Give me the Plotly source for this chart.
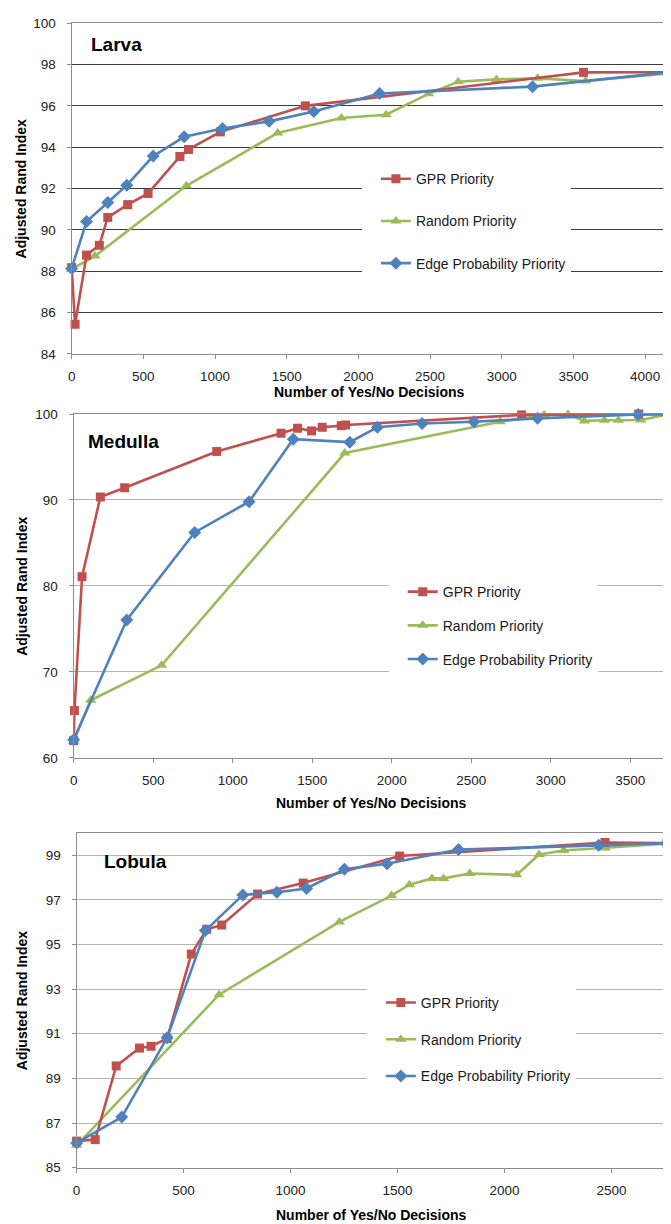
import plotly.graph_objects as go

W, H = 671, 1224

# ---------------- data ----------------
series_names = ["GPR Priority", "Random Priority", "Edge Probability Priority"]

larva_gpr_x = [0, 24, 104, 193, 252, 391, 533, 755, 815, 1037, 1630, 3570, 4160]
larva_gpr_y = [88.17, 85.43, 88.78, 89.25, 90.6, 91.22, 91.76, 93.55, 93.89, 94.74, 96.0, 97.62, 97.63]
larva_rand_x = [0, 163, 800, 1437, 1881, 2193, 2489, 2696, 2963, 3250, 3585, 4160]
larva_rand_y = [88.1, 88.73, 92.13, 94.69, 95.41, 95.57, 96.58, 97.17, 97.28, 97.33, 97.2, 97.57]
larva_edge_x = [0, 104, 252, 385, 569, 785, 1052, 1378, 1689, 2148, 3215, 4160]
larva_edge_y = [88.13, 90.4, 91.32, 92.16, 93.57, 94.5, 94.9, 95.25, 95.73, 96.6, 96.93, 97.62]

medulla_gpr_x = [0, 5, 53, 168, 321, 900, 1304, 1408, 1496, 1563, 1683, 1710, 2817, 3553, 3750]
medulla_gpr_y = [62.0, 65.5, 81.07, 90.35, 91.42, 95.65, 97.77, 98.35, 98.04, 98.46, 98.65, 98.73, 99.9, 100, 100]
medulla_rand_x = [0, 107, 553, 1705, 2682, 2959, 3108, 3212, 3337, 3425, 3566, 3750]
medulla_rand_y = [61.9, 66.7, 70.76, 95.46, 99.1, 99.9, 99.95, 99.2, 99.27, 99.27, 99.3, 100]
medulla_edge_x = [0, 334, 761, 1103, 1381, 1736, 1910, 2191, 2517, 2917, 3550, 3750]
medulla_edge_y = [62.1, 76.03, 86.23, 89.8, 97.08, 96.73, 98.46, 98.9, 99.1, 99.5, 99.96, 100]

lobula_gpr_x = [0, 87, 185, 294, 348, 423, 536, 608, 678, 846, 1059, 1510, 2470, 2760]
lobula_gpr_y = [86.19, 86.26, 89.56, 90.36, 90.44, 90.78, 94.57, 95.68, 95.87, 97.26, 97.75, 98.96, 99.57, 99.54]
lobula_rand_x = [0, 666, 1228, 1472, 1556, 1661, 1715, 1838, 2057, 2162, 2277, 2470, 2760]
lobula_rand_y = [86.0, 92.75, 96.01, 97.19, 97.68, 97.96, 97.96, 98.18, 98.12, 99.03, 99.21, 99.32, 99.51]
lobula_edge_x = [0, 211, 423, 602, 777, 936, 1075, 1252, 1451, 1785, 2440, 2760]
lobula_edge_y = [86.11, 87.27, 90.82, 95.62, 97.22, 97.34, 97.51, 98.37, 98.62, 99.25, 99.44, 99.54]

panel_titles = ["Larva", "Medulla", "Lobula"]
x_title = "Number of Yes/No Decisions"
y_title = "Adjusted Rand Index"

# ---------------- styling ----------------
RED, GREEN, BLUE = "#C0504D", "#9BBB59", "#4F81BD"
FONT = "Liberation Sans, Arial, sans-serif"

def py(p):  # pixel (from top) -> paper
    return 1 - p / H

def px(p):
    return p / W

panels = [
    dict(name="Larva", xd=(60, 660), yd=(8.3, 343), xr=(0, 4160), yr=(84, 100), dx=500, dy=2, y0=84,
         grid="#3c3c3c", gw=1.3, title_xy=(77, 30), xt_y=382, leg_top=150, leg_left=352, gap=21,
         data=[(larva_gpr_x, larva_gpr_y), (larva_rand_x, larva_rand_y), (larva_edge_x, larva_edge_y)]),
    dict(name="Medulla", xd=(62, 662), yd=(404, 752), xr=(0, 3750), yr=(60, 100), dx=500, dy=10, y0=60,
         grid="#b4b4b4", gw=1.1, title_xy=(74, 432), xt_y=798, leg_top=568, leg_left=379, gap=12.5,
         data=[(medulla_gpr_x, medulla_gpr_y), (medulla_rand_x, medulla_rand_y), (medulla_edge_x, medulla_edge_y)]),
    dict(name="Lobula", xd=(65, 659), yd=(828, 1167), xr=(0, 2760), yr=(85, 100), dx=500, dy=2, y0=85,
         grid="#b4b4b4", gw=1.1, title_xy=(91, 857), xt_y=1215, leg_top=984, leg_left=357, gap=15.5,
         data=[(lobula_gpr_x, lobula_gpr_y), (lobula_rand_x, lobula_rand_y), (lobula_edge_x, lobula_edge_y)]),
]

styles = [
    dict(color=RED, symbol="square", size=9),
    dict(color=GREEN, symbol="triangle-up", size=10),
    dict(color=BLUE, symbol="diamond", size=10),
]
draw_order = [1, 0, 2]  # green under, red, blue on top

fig = go.Figure()
layout = dict(
    width=W, height=H, margin=dict(l=0, r=0, t=0, b=0),
    paper_bgcolor="white", plot_bgcolor="white",
    font=dict(family=FONT, size=13, color="#222222"),
    showlegend=True,
)
annotations = []

for i, p in enumerate(panels):
    sfx = "" if i == 0 else str(i + 1)
    leg = "legend" if i == 0 else f"legend{i + 1}"
    for k in draw_order:
        xs, ys = p["data"][k]
        st = styles[k]
        fig.add_trace(go.Scatter(
            x=xs, y=ys, mode="lines+markers", name=series_names[k],
            xaxis="x" + sfx, yaxis="y" + sfx, legend=leg,
            legendgroup=f"{p['name']}_{k}", legendrank=k + 1,
            line=dict(color=st["color"], width=2.6),
            marker=dict(color=st["color"], symbol=st["symbol"], size=st["size"],
                        line=dict(width=0)),
            cliponaxis=False,
        ))
    layout["xaxis" + sfx] = dict(
        domain=[px(p["xd"][0]), px(p["xd"][1])], range=list(p["xr"]),
        anchor="y" + sfx, tick0=0, dtick=p["dx"], showgrid=False,
        showline=True, linecolor="#8c8c8c", linewidth=1.2, mirror=True,
        ticks="outside", ticklen=4, tickcolor="#8c8c8c", ticklabelstandoff=6,
        tickfont=dict(size=13.5, color="#222222"), zeroline=False,
    )
    layout["yaxis" + sfx] = dict(
        domain=[py(p["yd"][1]), py(p["yd"][0])], range=list(p["yr"]),
        anchor="x" + sfx, tick0=p["y0"], dtick=p["dy"], showgrid=True,
        gridcolor=p["grid"], gridwidth=p["gw"],
        showline=True, linecolor="#8c8c8c", linewidth=1.2, mirror=True,
        ticks="outside", ticklen=4, tickcolor="#8c8c8c", ticklabelstandoff=8,
        tickfont=dict(size=13.5, color="#222222"), zeroline=False,
    )
    layout[leg] = dict(
        x=px(p["leg_left"]), y=py(p["leg_top"]), xanchor="left", yanchor="top",
        bgcolor="white", borderwidth=0, font=dict(size=14, color="#1a1a1a"),
        tracegroupgap=p["gap"], indentation=14, traceorder="grouped",
        entrywidth=235,
    )
    # panel title
    annotations.append(dict(
        text=f"<b>{p['name']}</b>", x=px(p["title_xy"][0]), y=py(p["title_xy"][1]),
        xref="paper", yref="paper", xanchor="left", yanchor="middle", showarrow=False,
        font=dict(size=19, color="black"),
    ))
    # x axis title
    annotations.append(dict(
        text=f"<b>{x_title}</b>", x=px((p["xd"][0] + p["xd"][1]) / 2), y=py(p["xt_y"]),
        xref="paper", yref="paper", xanchor="center", yanchor="middle", showarrow=False,
        font=dict(size=14, color="black"),
    ))
    # y axis title
    annotations.append(dict(
        text=f"<b>{y_title}</b>", x=px(10), y=py((p["yd"][0] + p["yd"][1]) / 2),
        xref="paper", yref="paper", xanchor="center", yanchor="middle", showarrow=False,
        textangle=-90, font=dict(size=14, color="black"),
    ))

layout["annotations"] = annotations
fig.update_layout(**layout)
fig.write_html("out.html")
